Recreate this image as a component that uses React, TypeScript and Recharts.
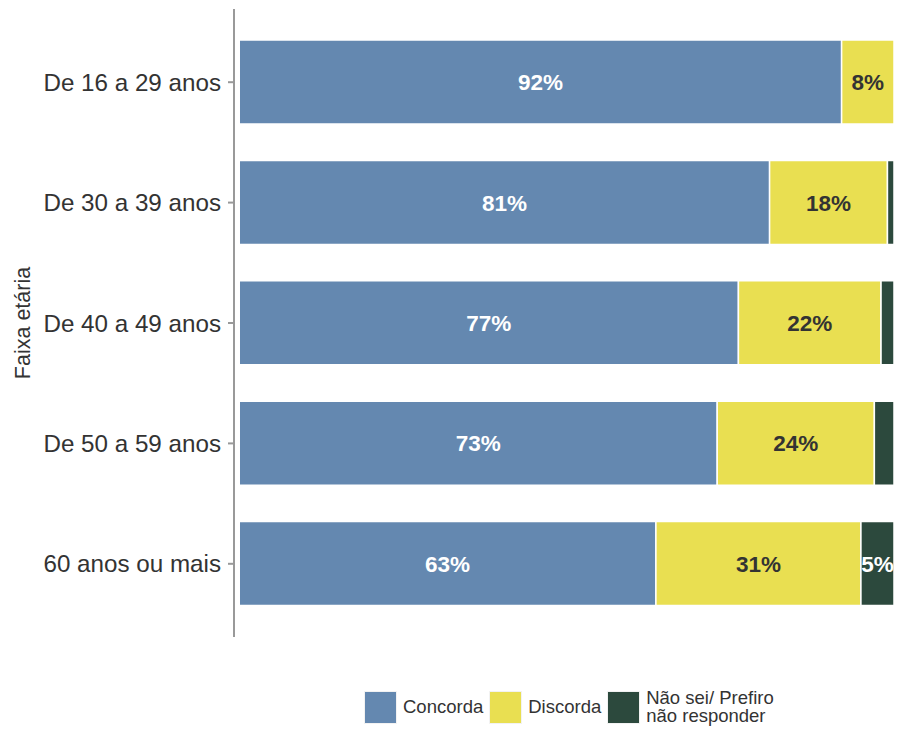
import { Bar, BarChart, LabelList, XAxis, YAxis } from "recharts";

const AGE_GROUPS = [
  "De 16 a 29 anos",
  "De 30 a 39 anos",
  "De 40 a 49 anos",
  "De 50 a 59 anos",
  "60 anos ou mais",
];
// rounded percentages as printed; each bar is scaled to fill 100%
const CONCORDA = [92, 81, 77, 73, 63];
const DISCORDA = [8, 18, 22, 24, 31];
const NAO_SEI = [0, 1, 2, 3, 5];

const SERIES = [
  { key: "concorda", name: "Concorda", color: "#6488B0", text: "#FFFFFF" },
  { key: "discorda", name: "Discorda", color: "#E9DF51", text: "#333333" },
  { key: "naoSei", name: "Não sei/ Prefiro\nnão responder", color: "#2C493D", text: "#FFFFFF" },
];

const data = AGE_GROUPS.map((group, i) => ({
  group,
  concorda: CONCORDA[i],
  discorda: DISCORDA[i],
  naoSei: NAO_SEI[i],
}));

type Row = (typeof data)[number];

const shareOf = (key: "concorda" | "discorda" | "naoSei") => (d: Row) =>
  (100 * d[key]) / (d.concorda + d.discorda + d.naoSei);

const FONT = '"Liberation Sans", Arial, sans-serif';

function makeLabel(textColor: string) {
  return (props: any) => {
    const { x, y, width, height, value } = props;
    if (value == null || value < 4) return null;
    return (
      <text
        x={x + width / 2}
        y={y + height / 2}
        dy="0.36em"
        textAnchor="middle"
        fill={textColor}
        fontFamily={FONT}
        fontSize={22.5}
        fontWeight={700}
      >
        {`${value}%`}
      </text>
    );
  };
}

export default function App() {
  return (
    <div style={{ position: "absolute", left: 0, top: 0, width: 899, height: 730, background: "#fff", fontFamily: FONT }}>
      <BarChart
        width={899}
        height={660}
        data={data}
        layout="vertical"
        margin={{ top: 9, right: 5, bottom: 23, left: 0 }}
      >
        <XAxis type="number" domain={[-0.8, 100]} hide allowDataOverflow />
        <YAxis
          type="category"
          dataKey="group"
          width={234}
          padding={{ top: 13, bottom: 13 }}
          axisLine={{ stroke: "#999999", strokeWidth: 2 }}
          tickLine={{ stroke: "#999999", strokeWidth: 2 }}
          tickSize={6}
          tickMargin={7}
          tick={{ fill: "#333333", fontSize: 24.2, fontFamily: FONT }}
          label={{
            content: (p: any) => {
              const vb = p.viewBox;
              const cy = vb.y + vb.height / 2;
              return (
                <text
                  x={22}
                  y={cy}
                  transform={`rotate(-90, 22, ${cy})`}
                  textAnchor="middle"
                  dy="0.36em"
                  fill="#333333"
                  fontFamily={FONT}
                  fontSize={21.5}
                >
                  Faixa etária
                </text>
              );
            },
          }}
        />
        {SERIES.map((s) => (
          <Bar
            key={s.key}
            name={s.name}
            dataKey={shareOf(s.key as "concorda" | "discorda" | "naoSei")}
            stackId="a"
            fill={s.color}
            stroke="#FFFFFF"
            strokeWidth={1.5}
            barSize={84}
            isAnimationActive={false}
          >
            <LabelList dataKey={s.key} content={makeLabel(s.text)} />
          </Bar>
        ))}
      </BarChart>
      <div style={{ position: "absolute", top: 689, left: 364, display: "flex", alignItems: "center", fontSize: 18.5, color: "#333333" }}>
        {SERIES.map((s) => (
          <div key={s.key} style={{ display: "flex", alignItems: "center", marginRight: 6 }}>
            <div style={{ width: 33, height: 33, background: s.color, border: "1px solid #f2f2f2", boxSizing: "border-box" }} />
            <div style={{ marginLeft: 6, whiteSpace: "pre", lineHeight: "18px" }}>{s.name}</div>
          </div>
        ))}
      </div>
    </div>
  );
}
